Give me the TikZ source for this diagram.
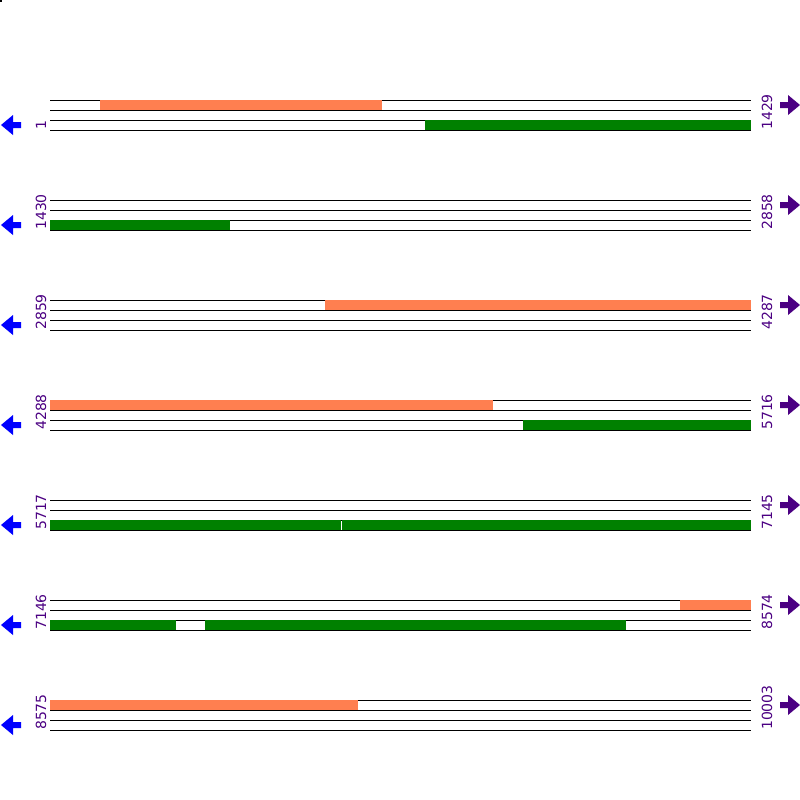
\documentclass[tikz,border=0pt]{standalone}
\usepackage{fontspec}
\setmainfont{DejaVu Sans}
\definecolor{coral}{RGB}{255,127,80}
\definecolor{dgreen}{RGB}{0,128,0}
\definecolor{lbl}{RGB}{75,0,130}
\definecolor{larr}{RGB}{0,0,255}
\tikzset{
  seqline/.style={black, line width=1pt},
  fwdbar/.style={fill=coral, draw=none},
  revbar/.style={fill=dgreen, draw=none},
  numlbl/.style={rotate=90, anchor=base west, text=lbl, font=\fontsize{14}{14}\selectfont, inner sep=0pt},
  leftarr/.style={fill=larr, draw=none},
  rightarr/.style={fill=lbl, draw=none}
}
\begin{document}
\begin{tikzpicture}[x=1pt,y=-1pt]
\useasboundingbox (0,0) rectangle (800,800);
\fill[black] (0,0) rectangle (2,2);
% rows
\foreach \b/\l/\r in {100/1/1429,200/1430/2858,300/2859/4287,400/4288/5716,500/5717/7145,600/7146/8574,700/8575/10003}{
  \foreach \k in {0,10,20,30}{
    \draw[seqline] (50,\b+\k) -- (751,\b+\k);
  }
  \node[numlbl] (L\b) at (46,\b+30) {\l};
  \node[numlbl] (R\b) at (772,\b+30) {\r};
  \fill[leftarr] (1,\b+25) -- (13,\b+15) -- (13,\b+22) -- (21,\b+22) -- (21,\b+28) -- (13,\b+28) -- (13,\b+35) -- cycle;
  \fill[rightarr] (800,\b+5) -- (788,\b-5) -- (788,\b+2) -- (780,\b+2) -- (780,\b+8) -- (788,\b+8) -- (788,\b+15) -- cycle;
}
% row 1
\fill[fwdbar] (100,100) rectangle (382,110);
\fill[revbar] (425,120) rectangle (751,130);
% row 2
\fill[revbar] (50,220) rectangle (230,230);
% row 3
\fill[fwdbar] (325,300) rectangle (751,310);
% row 4
\fill[fwdbar] (50,400) rectangle (493,410);
\fill[revbar] (523,420) rectangle (751,430);
% row 5
\fill[revbar] (50,520) rectangle (341,530);
\fill[revbar] (342,520) rectangle (751,530);
% row 6
\fill[fwdbar] (680,600) rectangle (751,610);
\fill[revbar] (50,620) rectangle (176,630);
\fill[revbar] (205,620) rectangle (626,630);
% row 7
\fill[fwdbar] (50,700) rectangle (358,710);
\end{tikzpicture}
\end{document}
